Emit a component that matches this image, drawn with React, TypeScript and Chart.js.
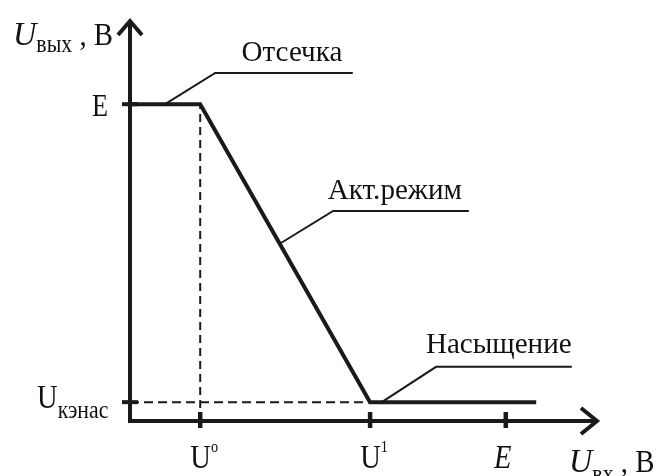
import React, { useEffect, useRef } from "react";
import { Chart, registerables } from "chart.js";

Chart.register(...registerables);

// ---- data (arbitrary units) ----
const curveX = [0, 1.5, 5.13, 8.68];
const curveY = [7.9, 7.9, 0.47, 0.47];
const U0 = 1.5;
const U1 = 5.13;
const E_X = 8.03;
const E_Y = 7.9;
const UK = 0.47;
const xTickValues = [U0, U1, E_X];
const xTickMain = ["U", "U", "E"];
const xTickSup = ["o", "1", ""];
const xTickItalic = [false, false, true];
const yTickValues = [E_Y, UK];
const annLabels = ["Отсечка", "Акт.режим", "Насыщение"];
const annStartX = [0.75, 3.2, 5.38];
const annElbowX = [1.82, 4.34, 6.54];
const annElbowY = [8.68, 5.24, 1.35];
const annEndX = [4.76, 7.24, 9.44];
const annTextX = [3.46, 5.66, 7.88];
const annTextY = [8.97, 5.54, 1.7];

const INK = "#1a1a1a";
const SERIF = "'Liberation Serif', 'DejaVu Serif', serif";

function curveYAt(x: number): number {
  for (let i = 0; i < curveX.length - 1; i++) {
    if (x >= curveX[i] && x <= curveX[i + 1]) {
      const t = (x - curveX[i]) / (curveX[i + 1] - curveX[i]);
      return curveY[i] + t * (curveY[i + 1] - curveY[i]);
    }
  }
  return curveY[curveY.length - 1];
}

type Run = { t: string; size: number; italic?: boolean; dy?: number; sx?: number };

function drawRuns(ctx: CanvasRenderingContext2D, runs: Run[], x: number, y: number, align: "left" | "center") {
  const widths = runs.map((r) => {
    ctx.font = `${r.italic ? "italic " : ""}${r.size}px ${SERIF}`;
    return ctx.measureText(r.t).width * (r.sx ?? 1);
  });
  const total = widths.reduce((a, b) => a + b, 0);
  let cx = align === "center" ? x - total / 2 : x;
  runs.forEach((r, i) => {
    ctx.save();
    ctx.font = `${r.italic ? "italic " : ""}${r.size}px ${SERIF}`;
    ctx.textAlign = "left";
    ctx.textBaseline = "alphabetic";
    ctx.fillStyle = "#111";
    ctx.translate(cx, y + (r.dy ?? 0));
    ctx.scale(r.sx ?? 1, 1);
    ctx.fillText(r.t, 0, 0);
    ctx.restore();
    cx += widths[i];
  });
}

function line(ctx: CanvasRenderingContext2D, pts: number[][], w: number) {
  ctx.beginPath();
  ctx.moveTo(pts[0][0], pts[0][1]);
  for (let i = 1; i < pts.length; i++) ctx.lineTo(pts[i][0], pts[i][1]);
  ctx.lineWidth = w;
  ctx.strokeStyle = INK;
  ctx.stroke();
}

const decorPlugin = {
  id: "decor",
  afterDatasetsDraw(chart: any) {
    const ctx: CanvasRenderingContext2D = chart.ctx;
    const xs = chart.scales.x;
    const ys = chart.scales.y;
    const x0 = xs.getPixelForValue(0);
    const y0 = ys.getPixelForValue(0);
    const xEnd = xs.getPixelForValue(xs.max);
    const yTop = ys.getPixelForValue(ys.max);
    ctx.save();
    ctx.lineCap = "butt";
    ctx.lineJoin = "miter";
    // axes
    line(ctx, [[x0, y0 + 2], [x0, yTop + 2]], 4);
    line(ctx, [[x0 - 2, y0], [xEnd - 2, y0]], 4);
    // arrowheads
    line(ctx, [[x0 - 12, yTop + 15], [x0, yTop + 1], [x0 + 12, yTop + 15]], 4);
    line(ctx, [[xEnd - 17, y0 - 13], [xEnd - 1, y0], [xEnd - 17, y0 + 13]], 4);
    // ticks
    xTickValues.forEach((v) => {
      const px = xs.getPixelForValue(v);
      line(ctx, [[px, y0 - 9], [px, y0 + 7]], 4.5);
    });
    yTickValues.forEach((v) => {
      const py = ys.getPixelForValue(v);
      line(ctx, [[x0 - 8, py], [x0 + 8, py]], 4);
    });
    // leaders
    annLabels.forEach((lab, i) => {
      const sx = xs.getPixelForValue(annStartX[i]);
      const sy = ys.getPixelForValue(curveYAt(annStartX[i]));
      const ex = xs.getPixelForValue(annElbowX[i]);
      const ey = ys.getPixelForValue(annElbowY[i]);
      const fx = xs.getPixelForValue(annEndX[i]);
      line(ctx, [[sx, sy], [ex, ey], [fx, ey]], 2);
      drawRuns(ctx, [{ t: lab, size: 30, sx: 0.97 }], xs.getPixelForValue(annTextX[i]), ys.getPixelForValue(annTextY[i]), "center");
    });
    // x tick labels
    xTickValues.forEach((v, i) => {
      const px = xs.getPixelForValue(v);
      const runs: Run[] = [{ t: xTickMain[i], size: 34, italic: xTickItalic[i], sx: 0.84 }];
      if (xTickSup[i]) runs.push({ t: xTickSup[i], size: 17, dy: -16, sx: 0.84 });
      drawRuns(ctx, runs, px + (xTickSup[i] ? 4 : -3), y0 + 47, "center");
    });
    // y tick labels
    drawRuns(ctx, [{ t: "E", size: 32, sx: 0.82 }], x0 - 30, ys.getPixelForValue(E_Y) + 12, "center");
    drawRuns(
      ctx,
      [
        { t: "U", size: 34, sx: 0.84 },
        { t: "кэнас", size: 26, sx: 0.84, dy: 10 },
      ],
      x0 - 93,
      ys.getPixelForValue(UK) + 6,
      "left"
    );
    // axis titles
    drawRuns(
      ctx,
      [
        { t: "U", size: 34, italic: true, sx: 0.95 },
        { t: "вых", size: 26, sx: 0.84, dy: 7 },
        { t: " , B", size: 32, sx: 0.9 },
      ],
      13,
      45,
      "left"
    );
    drawRuns(
      ctx,
      [
        { t: "U", size: 34, italic: true, sx: 0.95 },
        { t: "вх", size: 26, sx: 0.84, dy: 10 },
        { t: " , B", size: 32, sx: 0.9 },
      ],
      569,
      y0 + 51,
      "left"
    );
    ctx.restore();
  },
};

export default function App() {
  const ref = useRef<HTMLCanvasElement>(null);
  useEffect(() => {
    if (!ref.current) return;
    const chart = new Chart(ref.current, {
      type: "scatter",
      data: {
        datasets: [
          {
            data: curveX.map((x, i) => ({ x, y: curveY[i] })),
            showLine: true,
            borderColor: INK,
            borderWidth: 4,
            pointRadius: 0,
            borderJoinStyle: "miter",
          },
          {
            data: [
              { x: U0, y: 0 },
              { x: U0, y: E_Y },
            ],
            showLine: true,
            borderColor: INK,
            borderWidth: 2,
            borderDash: [8, 5],
            pointRadius: 0,
          },
          {
            data: [
              { x: 0, y: UK },
              { x: U1, y: UK },
            ],
            showLine: true,
            borderColor: INK,
            borderWidth: 2,
            borderDash: [9, 5],
            pointRadius: 0,
          },
        ],
      },
      options: {
        animation: false,
        responsive: false,
        maintainAspectRatio: false,
        layout: { padding: { left: 130, right: 62, top: 20, bottom: 55 } },
        plugins: { legend: { display: false }, tooltip: { enabled: false } },
        scales: {
          x: { type: "linear", min: 0, max: 10, display: false },
          y: { type: "linear", min: 0, max: 10, display: false },
        },
      },
      plugins: [decorPlugin],
    });
    return () => chart.destroy();
  }, []);
  return (
    <div style={{ position: "fixed", left: 0, top: 0, width: 660, height: 476, background: "#fff" }}>
      <canvas ref={ref} width={660} height={476} style={{ width: 660, height: 476 }} />
    </div>
  );
}
